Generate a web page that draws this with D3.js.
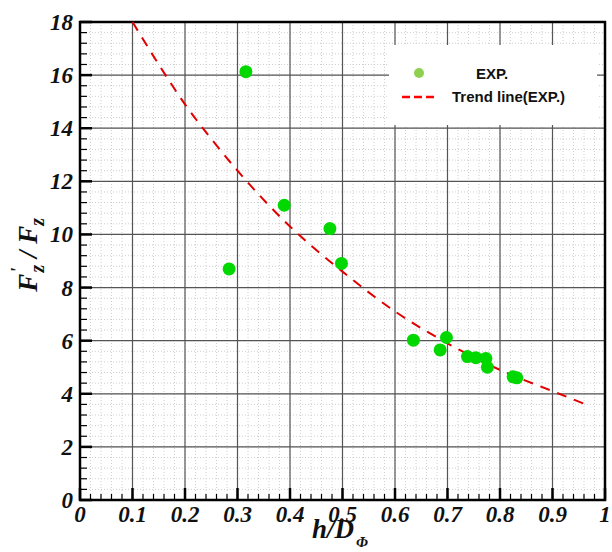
<!DOCTYPE html>
<html lang="en">
<head>
  <meta charset="UTF-8">
  <title>Fz ratio vs h/D</title>
  <style>
    body { margin: 0; background: #fff; }
    .tick-label { font-family: "Liberation Serif", serif; font-weight: bold; font-style: italic; font-size: 23px; fill: #111; }
    .legend-text { font-family: "Liberation Sans", sans-serif; font-weight: bold; font-size: 15px; fill: #111; }
    .title { font-family: "Liberation Serif", serif; font-weight: bold; font-style: italic; fill: #111; }
  </style>
</head>
<body>
  <script src="https://cdn.jsdelivr.net/npm/d3@7"></script>
  <script>
    // experimental points (h/D, F'z/Fz)
    var expX = [0.316, 0.284, 0.389, 0.476, 0.498, 0.635, 0.698, 0.686, 0.738, 0.754, 0.773, 0.776, 0.825, 0.832];
    var expY = [16.13, 8.70, 11.10, 10.22, 8.91, 6.02, 6.12, 5.65, 5.40, 5.36, 5.33, 5.00, 4.64, 4.60];
    // trend line
    var trendX = [0.1, 0.15, 0.2, 0.25, 0.3, 0.4, 0.5, 0.6, 0.7, 0.8, 0.9, 0.97];
    var trendY = [18.0, 16.4, 14.9, 13.6, 12.4, 10.3, 8.6, 7.1, 5.9, 4.9, 4.1, 3.55];
    var xTicks = [0, 0.1, 0.2, 0.3, 0.4, 0.5, 0.6, 0.7, 0.8, 0.9, 1];
    var yTicks = [0, 2, 4, 6, 8, 10, 12, 14, 16, 18];

    var width = 612, height = 552;
    // plot area edges (window.top is reserved, so prefix these)
    var pLeft = 80, pRight = 605, pTop = 22, pBottom = 500;

    var x = d3.scaleLinear().domain([0, 1]).range([pLeft, pRight]);
    var y = d3.scaleLinear().domain([0, 18]).range([pBottom, pTop]);

    var svg = d3.select("body").append("svg").attr("width", width).attr("height", height);

    // minor grid (dotted)
    var xMinor = d3.range(0, 1.0001, 0.02);
    var yMinor = d3.range(0, 18.0001, 0.4);
    svg.append("g").selectAll("line").data(xMinor).enter().append("line")
      .attr("x1", d => x(d)).attr("x2", d => x(d)).attr("y1", pTop).attr("y2", pBottom)
      .attr("stroke", "#cfcfcf").attr("stroke-width", 1).attr("stroke-dasharray", "1,2");
    svg.append("g").selectAll("line").data(yMinor).enter().append("line")
      .attr("y1", d => y(d)).attr("y2", d => y(d)).attr("x1", pLeft).attr("x2", pRight)
      .attr("stroke", "#cfcfcf").attr("stroke-width", 1).attr("stroke-dasharray", "1,2");

    // major grid
    svg.append("g").selectAll("line").data(xTicks).enter().append("line")
      .attr("x1", d => x(d)).attr("x2", d => x(d)).attr("y1", pTop).attr("y2", pBottom)
      .attr("stroke", "#555").attr("stroke-width", 1.2);
    svg.append("g").selectAll("line").data(yTicks).enter().append("line")
      .attr("y1", d => y(d)).attr("y2", d => y(d)).attr("x1", pLeft).attr("x2", pRight)
      .attr("stroke", "#555").attr("stroke-width", 1.2);

    // inward ticks
    svg.append("g").selectAll("line").data(xMinor).enter().append("line")
      .attr("x1", d => x(d)).attr("x2", d => x(d)).attr("y1", pBottom).attr("y2", pBottom - 6)
      .attr("stroke", "#000").attr("stroke-width", 1.2);
    svg.append("g").selectAll("line").data(yMinor).enter().append("line")
      .attr("y1", d => y(d)).attr("y2", d => y(d)).attr("x1", pLeft).attr("x2", pLeft + 7)
      .attr("stroke", "#000").attr("stroke-width", 1.2);
    svg.append("g").selectAll("line").data(xTicks).enter().append("line")
      .attr("x1", d => x(d)).attr("x2", d => x(d)).attr("y1", pBottom).attr("y2", pBottom - 12)
      .attr("stroke", "#000").attr("stroke-width", 2.5);
    svg.append("g").selectAll("line").data(yTicks).enter().append("line")
      .attr("y1", d => y(d)).attr("y2", d => y(d)).attr("x1", pLeft).attr("x2", pLeft + 12)
      .attr("stroke", "#000").attr("stroke-width", 2.5);

    // frame
    svg.append("rect").attr("x", pLeft).attr("y", pTop).attr("width", pRight - pLeft).attr("height", pBottom - pTop)
      .attr("fill", "none").attr("stroke", "#000").attr("stroke-width", 2.5);

    // legend box
    svg.append("rect").attr("x", 389).attr("y", 45).attr("width", 208).attr("height", 80).attr("fill", "#fff");

    // trend line
    var line = d3.line().x(d => x(d[0])).y(d => y(d[1])).curve(d3.curveMonotoneX);
    svg.append("path").datum(d3.zip(trendX, trendY)).attr("d", line)
      .attr("fill", "none").attr("stroke", "#e00000").attr("stroke-width", 2).attr("stroke-dasharray", "10,8");

    // points
    svg.append("g").selectAll("circle").data(d3.zip(expX, expY)).enter().append("circle")
      .attr("cx", d => x(d[0])).attr("cy", d => y(d[1])).attr("r", 6.5).attr("fill", "#00d800");

    // legend
    svg.append("circle").attr("cx", 419).attr("cy", 73).attr("r", 5).attr("fill", "#8fd14f");
    svg.append("text").attr("class", "legend-text").attr("x", 476).attr("y", 79).text("EXP.");
    svg.append("line").attr("x1", 402).attr("x2", 437).attr("y1", 97).attr("y2", 97)
      .attr("stroke", "#ff0000").attr("stroke-width", 2.5).attr("stroke-dasharray", "8,4");
    svg.append("text").attr("class", "legend-text").attr("x", 452).attr("y", 102).text("Trend line(EXP.)");

    // tick labels
    svg.append("g").selectAll("text").data(xTicks).enter().append("text")
      .attr("class", "tick-label").attr("x", d => x(d)).attr("y", 522).attr("text-anchor", "middle")
      .text(d => d);
    svg.append("g").selectAll("text").data(yTicks).enter().append("text")
      .attr("class", "tick-label").attr("x", 73).attr("y", d => y(d) + 8).attr("text-anchor", "end")
      .text(d => d);

    // axis titles
    var xt = svg.append("text").attr("class", "title").attr("x", 312).attr("y", 538).style("font-size", "27px");
    xt.append("tspan").text("h/D");
    xt.append("tspan").attr("dx", 2).attr("dy", 9).style("font-size", "15px").text("Φ");

    // y title: F'z / Fz, prime stacked over the subscript
    var yt = svg.append("text").attr("class", "title").attr("transform", "translate(37,218) rotate(-90)")
      .attr("text-anchor", "end").style("font-size", "27px");
    yt.append("tspan").text("F");
    yt.append("tspan").attr("dx", 1).attr("dy", -13).style("font-size", "18px").text("'");
    yt.append("tspan").attr("dx", -5).attr("dy", 20).style("font-size", "20px").text("z");
    yt.append("tspan").attr("dy", -7).text(" / F");
    yt.append("tspan").attr("dy", 7).style("font-size", "20px").text("z");
  </script>
</body>
</html>
